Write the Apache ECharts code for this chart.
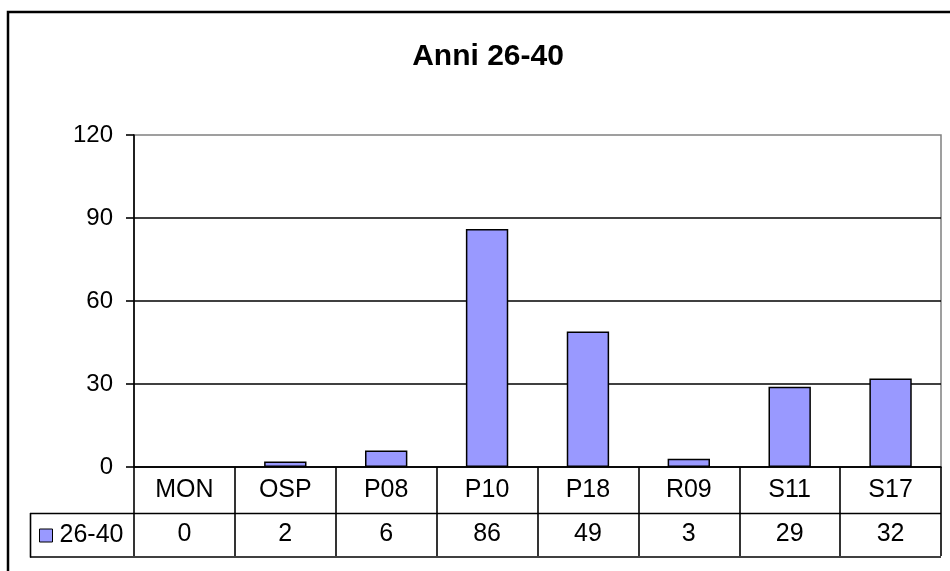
<!DOCTYPE html>
<html>
<head>
<meta charset="utf-8">
<script src="https://cdn.jsdelivr.net/npm/echarts@6/dist/echarts.min.js"></script>
<style>html,body{margin:0;padding:0;background:#fff;}#c{width:950px;height:571px;}</style>
</head>
<body>
<div id="c"></div>
<script>
const categories = ['MON', 'OSP', 'P08', 'P10', 'P18', 'R09', 'S11', 'S17'];
const values = [0, 2, 6, 86, 49, 3, 29, 32];
const seriesName = '26-40';
const titleText = 'Anni 26-40';
const yTicks = [0, 30, 60, 90, 120];

const FONT = '"Liberation Sans", Arial, sans-serif';
const LW = 1.6;
const chart = echarts.init(document.getElementById('c'), null, {renderer: 'canvas'});
chart.setOption({
  animation: false,
  backgroundColor: '#fff',
  textStyle: {fontFamily: FONT},
  title: {
    text: titleText,
    left: 483, top: 37, textAlign: 'center',
    textStyle: {fontFamily: FONT, fontSize: 30, fontWeight: 'bold', color: '#000'}
  },
  legend: {
    data: [seriesName],
    left: 39, top: 523, padding: 0,
    itemWidth: 13, itemHeight: 13, itemGap: 5,
    icon: 'rect',
    itemStyle: {color: '#9999FF', borderColor: '#000', borderWidth: 1},
    textStyle: {fontFamily: FONT, fontSize: 25, color: '#000', padding: [0, 0, 0, 2]}
  },
  grid: {
    left: 134, right: 9, top: 135, bottom: 104,
    show: true, borderColor: '#808080', borderWidth: 1.5, backgroundColor: 'transparent'
  },
  xAxis: {
    type: 'category',
    data: categories,
    axisLine: {show: true, lineStyle: {color: '#000', width: LW}},
    axisTick: {show: true, length: 89, lineStyle: {color: '#000', width: LW}},
    axisLabel: {
      margin: 1,
      interval: 0,
      formatter: function (v, i) { return '{c|' + v + '}\n{v|' + values[i] + '}'; },
      rich: {
        c: {fontFamily: FONT, fontSize: 25, color: '#000', lineHeight: 44},
        v: {fontFamily: FONT, fontSize: 25, color: '#000', lineHeight: 45}
      }
    }
  },
  yAxis: {
    type: 'value',
    min: yTicks[0], max: yTicks[yTicks.length - 1], interval: 30,
    axisLine: {show: true, lineStyle: {color: '#000', width: LW}},
    axisTick: {show: true, length: 8, lineStyle: {color: '#000', width: LW}},
    axisLabel: {margin: 21, fontFamily: FONT, fontSize: 24, color: '#000'},
    splitLine: {show: true, showMaxLine: false, lineStyle: {color: '#000', width: LW}}
  },
  series: [{
    name: seriesName,
    type: 'bar',
    data: values.map(function (v) { return v === 0 ? {value: v, itemStyle: {borderWidth: 0, opacity: 0}} : v; }),
    barWidth: '42%',
    itemStyle: {color: '#9999FF', borderColor: '#000', borderWidth: 1.5}
  }],
  graphic: [
    {type: 'rect', shape: {x: 8, y: 12, width: 960, height: 600}, style: {fill: 'none', stroke: '#000', lineWidth: 2.5}, silent: true},
    {type: 'line', shape: {x1: 30, y1: 513.5, x2: 941, y2: 513.5}, style: {stroke: '#000', lineWidth: LW}},
    {type: 'line', shape: {x1: 30, y1: 557, x2: 941, y2: 557}, style: {stroke: '#000', lineWidth: LW}},
    {type: 'line', shape: {x1: 30.5, y1: 513, x2: 30.5, y2: 557.5}, style: {stroke: '#000', lineWidth: LW}}
  ]
});
</script>
</body>
</html>
